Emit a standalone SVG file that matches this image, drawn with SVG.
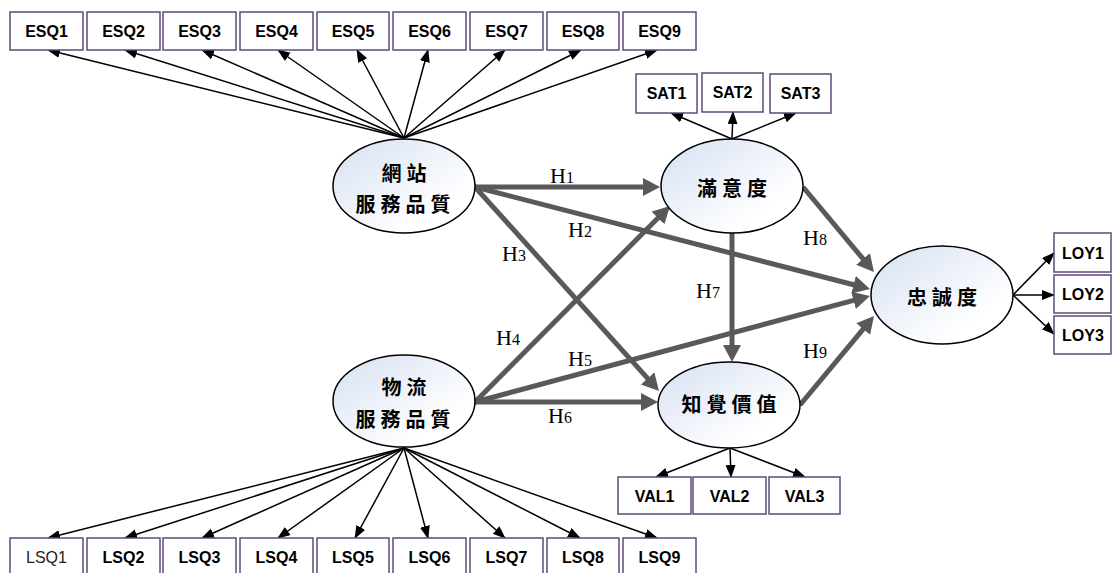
<svg xmlns="http://www.w3.org/2000/svg" width="1112" height="573" viewBox="0 0 1112 573">
<defs>
<linearGradient id="eg" x1="0" y1="0" x2="1" y2="1">
<stop offset="0" stop-color="#d6e0f2"/>
<stop offset="0.75" stop-color="#ffffff"/>
</linearGradient>
<marker id="ta" markerUnits="userSpaceOnUse" markerWidth="14" markerHeight="12" viewBox="0 0 14 12" refX="12" refY="5" orient="auto">
<path d="M0,0 L13,5 L0,10 Z" fill="#000"/>
</marker>
<marker id="ka" markerUnits="userSpaceOnUse" markerWidth="20" markerHeight="20" viewBox="0 0 20 20" refX="1" refY="9" orient="auto">
<path d="M0,0 L17,9 L0,18 Z" fill="#595959"/>
</marker>
</defs>
<style>
.box{fill:#fff;stroke:#604a7b;stroke-width:1.5}
.bt{font-family:"Liberation Sans",Arial,sans-serif;font-size:16px;font-weight:bold;fill:#000;text-anchor:middle}
.bn{font-weight:normal;fill:#222}
.ell{fill:url(#eg);stroke:#000;stroke-width:1.5}
.nt{font-family:"Noto Sans CJK TC","Noto Sans CJK SC",sans-serif;font-size:20px;font-weight:bold;fill:#000;text-anchor:middle;letter-spacing:5px}
.thin{stroke:#000;stroke-width:1.5;fill:none;marker-end:url(#ta)}
.thick{stroke:#595959;stroke-width:5;fill:none;marker-end:url(#ka)}
.hl{font-family:"Liberation Serif","Times New Roman",serif;font-size:22px;fill:#000}
.hs{font-size:16px}
</style>

<g id="connectors">
<line class="thin" x1="404" y1="138" x2="48" y2="50"/>
<line class="thin" x1="404" y1="138" x2="125" y2="50"/>
<line class="thin" x1="404" y1="138" x2="202" y2="50"/>
<line class="thin" x1="404" y1="138" x2="278" y2="50"/>
<line class="thin" x1="404" y1="138" x2="357" y2="50"/>
<line class="thin" x1="404" y1="138" x2="428" y2="50"/>
<line class="thin" x1="404" y1="138" x2="505" y2="50"/>
<line class="thin" x1="404" y1="138" x2="581" y2="50"/>
<line class="thin" x1="404" y1="138" x2="657" y2="50"/>
<line class="thin" x1="404" y1="448" x2="48" y2="538"/>
<line class="thin" x1="404" y1="448" x2="125" y2="538"/>
<line class="thin" x1="404" y1="448" x2="202" y2="538"/>
<line class="thin" x1="404" y1="448" x2="278" y2="538"/>
<line class="thin" x1="404" y1="448" x2="355" y2="538"/>
<line class="thin" x1="404" y1="448" x2="428" y2="538"/>
<line class="thin" x1="404" y1="448" x2="505" y2="538"/>
<line class="thin" x1="404" y1="448" x2="580" y2="538"/>
<line class="thin" x1="404" y1="448" x2="657" y2="538"/>
<line class="thin" x1="732" y1="139" x2="671" y2="113"/>
<line class="thin" x1="732" y1="139" x2="733" y2="112"/>
<line class="thin" x1="732" y1="139" x2="796" y2="113"/>
<line class="thin" x1="730" y1="448" x2="656" y2="477"/>
<line class="thin" x1="730" y1="448" x2="731" y2="477"/>
<line class="thin" x1="730" y1="448" x2="805" y2="477"/>
<line class="thin" x1="1013" y1="295" x2="1054" y2="253"/>
<line class="thin" x1="1013" y1="295" x2="1054" y2="295"/>
<line class="thin" x1="1013" y1="295" x2="1054" y2="334"/>
<line class="thick" x1="475" y1="187" x2="644" y2="187"/>
<line class="thick" x1="475" y1="187" x2="854.5" y2="285"/>
<line class="thick" x1="475" y1="187" x2="648.3" y2="379.1"/>
<line class="thick" x1="475" y1="402" x2="658.7" y2="217.3"/>
<line class="thick" x1="475" y1="402" x2="854.5" y2="300.1"/>
<line class="thick" x1="475" y1="402" x2="642" y2="402"/>
<line class="thick" x1="732" y1="233" x2="732" y2="346"/>
<line class="thick" x1="803" y1="187" x2="863.7" y2="259.7"/>
<line class="thick" x1="800" y1="405" x2="863.8" y2="328.3"/>
<text class="hl" x="550" y="183">H<tspan class="hs">1</tspan></text>
<text class="hl" x="568" y="237">H<tspan class="hs">2</tspan></text>
<text class="hl" x="502" y="261">H<tspan class="hs">3</tspan></text>
<text class="hl" x="496" y="345">H<tspan class="hs">4</tspan></text>
<text class="hl" x="568" y="366">H<tspan class="hs">5</tspan></text>
<text class="hl" x="548" y="423">H<tspan class="hs">6</tspan></text>
<text class="hl" x="696" y="298">H<tspan class="hs">7</tspan></text>
<text class="hl" x="803" y="245">H<tspan class="hs">8</tspan></text>
<text class="hl" x="803" y="358">H<tspan class="hs">9</tspan></text>
</g>

<g id="ESQ1"><rect class="box" x="10" y="12" width="73" height="38"/><text class="bt" x="46.5" y="37">ESQ1</text></g>
<g id="ESQ2"><rect class="box" x="87" y="12" width="73" height="38"/><text class="bt" x="123.5" y="37">ESQ2</text></g>
<g id="ESQ3"><rect class="box" x="163" y="12" width="73" height="38"/><text class="bt" x="199.5" y="37">ESQ3</text></g>
<g id="ESQ4"><rect class="box" x="240" y="12" width="73" height="38"/><text class="bt" x="276.5" y="37">ESQ4</text></g>
<g id="ESQ5"><rect class="box" x="317" y="12" width="72" height="38"/><text class="bt" x="353" y="37">ESQ5</text></g>
<g id="ESQ6"><rect class="box" x="393" y="12" width="73" height="38"/><text class="bt" x="429.5" y="37">ESQ6</text></g>
<g id="ESQ7"><rect class="box" x="470" y="12" width="73" height="38"/><text class="bt" x="506.5" y="37">ESQ7</text></g>
<g id="ESQ8"><rect class="box" x="547" y="12" width="72" height="38"/><text class="bt" x="583" y="37">ESQ8</text></g>
<g id="ESQ9"><rect class="box" x="623" y="12" width="73" height="38"/><text class="bt" x="659.5" y="37">ESQ9</text></g>

<g id="LSQ1"><rect class="box" x="10" y="538" width="73" height="38"/><text class="bt bn" x="46.5" y="563">LSQ1</text></g>
<g id="LSQ2"><rect class="box" x="87" y="538" width="73" height="38"/><text class="bt" x="123.5" y="563">LSQ2</text></g>
<g id="LSQ3"><rect class="box" x="163" y="538" width="73" height="38"/><text class="bt" x="199.5" y="563">LSQ3</text></g>
<g id="LSQ4"><rect class="box" x="240" y="538" width="73" height="38"/><text class="bt" x="276.5" y="563">LSQ4</text></g>
<g id="LSQ5"><rect class="box" x="317" y="538" width="72" height="38"/><text class="bt" x="353" y="563">LSQ5</text></g>
<g id="LSQ6"><rect class="box" x="393" y="538" width="73" height="38"/><text class="bt" x="429.5" y="563">LSQ6</text></g>
<g id="LSQ7"><rect class="box" x="470" y="538" width="73" height="38"/><text class="bt" x="506.5" y="563">LSQ7</text></g>
<g id="LSQ8"><rect class="box" x="547" y="538" width="72" height="38"/><text class="bt" x="583" y="563">LSQ8</text></g>
<g id="LSQ9"><rect class="box" x="623" y="538" width="73" height="38"/><text class="bt" x="659.5" y="563">LSQ9</text></g>

<g id="SAT1"><rect class="box" x="636" y="74" width="61" height="39"/><text class="bt" x="666.5" y="99">SAT1</text></g>
<g id="SAT2"><rect class="box" x="702" y="73" width="61" height="39"/><text class="bt" x="732.5" y="98">SAT2</text></g>
<g id="SAT3"><rect class="box" x="770" y="74" width="61" height="39"/><text class="bt" x="800.5" y="99">SAT3</text></g>

<g id="VAL1"><rect class="box" x="618" y="477" width="73" height="37"/><text class="bt" x="654.5" y="501.5">VAL1</text></g>
<g id="VAL2"><rect class="box" x="693" y="477" width="73" height="37"/><text class="bt" x="729.5" y="501.5">VAL2</text></g>
<g id="VAL3"><rect class="box" x="769" y="477" width="71" height="37"/><text class="bt" x="804.5" y="501.5">VAL3</text></g>

<g id="LOY1"><rect class="box" x="1054" y="233" width="57" height="39"/><text class="bt" x="1083" y="258.5">LOY1</text></g>
<g id="LOY2"><rect class="box" x="1054" y="275" width="57" height="38"/><text class="bt" x="1083" y="300">LOY2</text></g>
<g id="LOY3"><rect class="box" x="1054" y="316" width="57" height="38"/><text class="bt" x="1083" y="341">LOY3</text></g>

<g id="web_sq"><ellipse class="ell" cx="404" cy="186" rx="71" ry="47"/><text class="nt" x="406.5" y="181">網站</text><text class="nt" x="405.5" y="212">服務品質</text></g>
<g id="log_sq"><ellipse class="ell" cx="404" cy="401" rx="71" ry="46"/><text class="nt" x="406.5" y="395">物流</text><text class="nt" x="405.5" y="427">服務品質</text></g>
<g id="sat"><ellipse class="ell" cx="732" cy="186" rx="71" ry="47"/><text class="nt" x="734.5" y="196">滿意度</text></g>
<g id="val"><ellipse class="ell" cx="729" cy="405" rx="71" ry="43"/><text class="nt" x="731.5" y="412">知覺價值</text></g>
<g id="loy"><ellipse class="ell" cx="942" cy="295" rx="71" ry="49"/><text class="nt" x="944.5" y="305">忠誠度</text></g>
</svg>
